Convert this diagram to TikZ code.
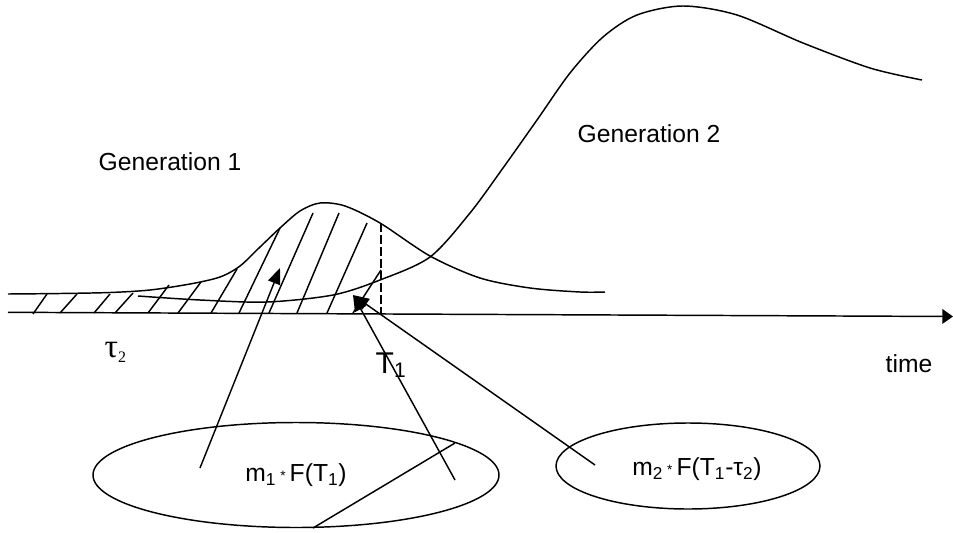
\documentclass[tikz,border=0pt]{standalone}
\usepackage{fontspec}
\setmainfont{Liberation Sans}
\newfontfamily\serifgr{Liberation Serif}
\usetikzlibrary{arrows.meta,shapes.geometric}
\begin{document}
\begin{tikzpicture}[x=0.75pt,y=-0.75pt,
  line width=1.1pt,
  curve/.style={line width=1.1pt},
  hatch/.style={line width=1.1pt},
  bigtip/.style={-{Triangle[length=12pt,width=9.5pt]}},
  oval/.style={draw,ellipse,inner sep=0pt,line width=1.1pt},
  lbl/.style={font=\fontsize{18.5}{22}\selectfont,inner sep=0pt}]
\useasboundingbox (0,0) rectangle (953,532);
% axis
\coordinate (ax0) at (8,312.3);
\coordinate (ax1) at (953,316.5);
\draw[-{Triangle[length=8pt,width=11pt]}] (ax0) -- (ax1);
% generation 1 curve
\draw[curve] plot[smooth,tension=0.5] coordinates {(8,294) (60,293.5) (110,292.5) (150,290) (190,284) (220,277) (240,266) (260,247) (280,228) (300,211) (320,203) (345,206) (380,223) (430,256) (480,278) (530,288) (580,292) (605,292)};
% generation 2 curve
\draw[curve] plot[smooth,tension=0.5] coordinates {(138,296) (200,300) (267,302) (333,295) (380,280) (430,257) (470,213) (503,168) (537,120) (570,73) (603,37) (637,15) (683,6) (737,15) (803,43) (870,68) (922,80)};
% hatch
\foreach \a/\b/\c/\d in {33/314/47/294, 60/313/77/294, 94/313/110/294, 115/313/133/293, 148/313/169/285, 178/313/201/282, 211/313/237/269, 239/313/280/228, 269/313/313/213, 297/313/339/213, 327/313/367/223, 353/313/381/270}
  \draw[hatch] (\a,\b) -- (\c,\d);
% dashed T1 line
\coordinate (d0) at (381,223);
\coordinate (d1) at (381,314);
\draw[dash pattern=on 6.5pt off 2.5pt] (d0) -- (d1);
% ellipses
\node[oval,minimum width=304.5pt,minimum height=78.75pt,lbl] (e1) at (296,475) {m\textsubscript{1}\,\raisebox{0.05em}{\scalebox{0.55}{*}}\,F(T\textsubscript{1})};
\node[oval,minimum width=198pt,minimum height=64.5pt] (e2) at (688,466) {};
\node[lbl] (t2) at (697,469) {m\textsubscript{2}\,\raisebox{0.05em}{\scalebox{0.55}{*}}\,F(T\textsubscript{1}-τ\textsubscript{2})};
% line inside ellipse 1
\coordinate (l0) at (455,443);
\coordinate (l1) at (313,528);
\draw (l0) -- (l1);
% arrows
\coordinate (s1) at (200,468);
\coordinate (tip1) at (280,268);
\coordinate (s2) at (455,480);
\coordinate (s3) at (595,465);
\coordinate (tip2) at (353,295);
\draw[bigtip] (s1) -- (tip1);
\draw[bigtip] (s2) -- (tip2);
\draw[bigtip] (s3) -- (tip2);
% labels
\node[lbl,anchor=base west] (g1) at (98,170) {Generation 1};
\node[lbl,anchor=base west] (g2) at (577,142) {Generation 2};
\node[lbl,anchor=base west] (tm) at (885,372) {time};
\node[font=\fontsize{22.5}{26}\selectfont,inner sep=0pt,anchor=base west] (T1) at (375,373) {T\textsubscript{1}};
\node[inner sep=0pt,anchor=base west] (tau) at (104,357) {\serifgr\fontsize{25}{28}\selectfont τ\raisebox{-0.15em}{\fontsize{12}{14}\selectfont 2}};
\end{tikzpicture}
\end{document}
